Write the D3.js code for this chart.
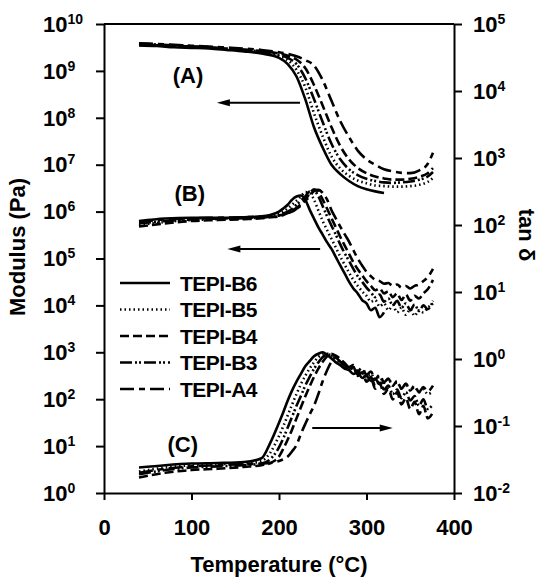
<!DOCTYPE html>
<html>
<head>
<meta charset="utf-8">
<script src="https://cdn.jsdelivr.net/npm/d3@7"></script>
<style>
  body { margin: 0; background: #fff; }
  text { font-family: 'Liberation Sans', Arial, sans-serif; font-weight: bold; fill: #000; }
</style>
</head>
<body>
<div id="chart"></div>
<script>
const seriesNames = ['TEPI-B6', 'TEPI-B5', 'TEPI-B4', 'TEPI-B3', 'TEPI-A4'];

// temperature grids (deg C)
const tempA = [40, 60, 80, 100, 120, 140, 160, 180, 200, 210, 220, 230, 240, 250, 260, 270, 280, 290, 300, 310, 320, 330, 340, 350, 360, 370, 376];
const tempBC = [40, 70, 100, 130, 160, 180, 190, 200, 205, 210, 215, 220, 225, 230, 235, 240, 245, 250, 255, 260, 265, 270, 275, 280, 285, 290, 295, 300, 305, 310, 315, 320, 325, 330, 335, 340, 345, 350, 355, 360, 365, 370, 376];

// (A) storage modulus, Pa
const storageB6 = [3.5e9, 3.4e9, 3.2e9, 3.1e9, 3.0e9, 2.8e9, 2.6e9, 2.35e9, 1.9e9, 1.4e9, 7.6e8, 2.5e8, 6.3e7, 2.3e7, 1.0e7, 6.3e6, 4.5e6, 3.5e6, 3.0e6, 2.7e6, 2.5e6];
const storageB5 = [3.7e9, 3.55e9, 3.4e9, 3.25e9, 3.1e9, 2.9e9, 2.7e9, 2.45e9, 2.05e9, 1.7e9, 1.05e9, 4.5e8, 1.25e8, 4.0e7, 1.5e7, 8.3e6, 5.8e6, 4.6e6, 4.0e6, 3.6e6, 3.5e6, 3.4e6, 3.4e6, 3.5e6, 3.7e6, 4.3e6, 5.2e6];
const storageB4 = [3.6e9, 3.5e9, 3.4e9, 3.3e9, 3.15e9, 3.0e9, 2.85e9, 2.65e9, 2.35e9, 2.1e9, 1.75e9, 1.15e9, 5.0e8, 1.8e8, 6.3e7, 2.5e7, 1.3e7, 8.5e6, 6.6e6, 5.6e6, 5.1e6, 4.8e6, 4.8e6, 5.0e6, 5.5e6, 6.6e6, 8.5e6];
const storageB3 = [3.8e9, 3.65e9, 3.5e9, 3.35e9, 3.2e9, 3.0e9, 2.8e9, 2.55e9, 2.2e9, 1.9e9, 1.4e9, 7.0e8, 2.5e8, 8.0e7, 2.8e7, 1.3e7, 8.0e6, 6.0e6, 5.0e6, 4.5e6, 4.2e6, 4.1e6, 4.2e6, 4.4e6, 4.8e6, 5.6e6, 7.0e6];
const storageA4 = [3.9e9, 3.75e9, 3.6e9, 3.45e9, 3.3e9, 3.15e9, 3.0e9, 2.8e9, 2.5e9, 2.3e9, 2.05e9, 1.7e9, 1.3e9, 6.3e8, 2.3e8, 8.5e7, 3.9e7, 2.0e7, 1.3e7, 1.0e7, 8.0e6, 7.2e6, 6.7e6, 6.6e6, 7.5e6, 1.05e7, 1.8e7];

// (B) loss modulus, Pa
const lossB6 = [6.3e5, 7.1e5, 7.4e5, 7.4e5, 7.6e5, 7.9e5, 8.5e5, 1.0e6, 1.17e6, 1.4e6, 1.8e6, 2.1e6, 2.2e6, 1.8e6, 1.1e6, 7.1e5, 4.6e5, 3.2e5, 2.2e5, 1.6e5, 1.07e5, 7.1e4, 4.8e4, 3.2e4, 2.3e4, 1.8e4, 1.3e4, 1.1e4, 7.9e3, 8.9e3, 5.6e3, 7.1e3];
const lossB5 = [5.2e5, 6.0e5, 6.6e5, 6.9e5, 7.2e5, 7.6e5, 7.9e5, 8.9e5, 1.0e6, 1.17e6, 1.4e6, 1.7e6, 2.1e6, 2.6e6, 2.5e6, 1.8e6, 1.05e6, 6.3e5, 4.0e5, 2.6e5, 1.7e5, 1.1e5, 7.4e4, 5.0e4, 3.5e4, 2.6e4, 2.0e4, 1.6e4, 1.2e4, 1.3e4, 9.5e3, 1.1e4, 7.9e3, 1.0e4, 7.1e3, 8.9e3, 6.3e3, 8.3e3, 6.0e3, 7.9e3, 7.1e3, 8.9e3, 1.1e4];
const lossB4 = [4.8e5, 5.6e5, 6.3e5, 6.6e5, 6.9e5, 7.2e5, 7.6e5, 7.9e5, 8.5e5, 9.3e5, 1.05e6, 1.2e6, 1.45e6, 1.8e6, 2.4e6, 3.0e6, 2.6e6, 1.8e6, 1.15e6, 7.2e5, 4.6e5, 2.9e5, 1.9e5, 1.26e5, 8.3e4, 5.9e4, 4.4e4, 3.3e4, 2.6e4, 2.1e4, 2.3e4, 1.8e4, 2.0e4, 1.5e4, 1.8e4, 1.3e4, 1.7e4, 1.26e4, 1.6e4, 1.4e4, 1.8e4, 2.2e4, 3.5e4];
const lossB3 = [5.6e5, 6.3e5, 6.8e5, 7.1e5, 7.2e5, 7.4e5, 7.8e5, 8.3e5, 9.1e5, 1.0e6, 1.15e6, 1.4e6, 1.7e6, 2.1e6, 2.7e6, 2.8e6, 2.1e6, 1.3e6, 7.9e5, 5.0e5, 3.2e5, 2.0e5, 1.3e5, 8.9e4, 6.0e4, 4.2e4, 3.2e4, 2.4e4, 1.9e4, 1.5e4, 1.7e4, 1.2e4, 1.4e4, 1.0e4, 1.26e4, 8.9e3, 1.1e4, 7.9e3, 1.05e4, 7.6e3, 1.0e4, 8.3e3, 1.26e4];
const lossA4 = [6.0e5, 6.8e5, 7.2e5, 7.4e5, 7.6e5, 7.8e5, 7.9e5, 8.3e5, 8.7e5, 9.3e5, 1.0e6, 1.15e6, 1.35e6, 1.7e6, 2.1e6, 2.75e6, 2.9e6, 2.5e6, 1.8e6, 1.07e6, 7.1e5, 4.8e5, 3.3e5, 2.3e5, 1.5e5, 1.0e5, 7.1e4, 5.2e4, 4.2e4, 3.5e4, 3.3e4, 2.9e4, 3.0e4, 2.6e4, 2.8e4, 2.4e4, 2.6e4, 2.3e4, 2.6e4, 2.8e4, 3.3e4, 4.0e4, 6.0e4];

// (C) tan delta
const tanB6 = [0.024, 0.026, 0.0275, 0.028, 0.029, 0.033, 0.056, 0.112, 0.162, 0.24, 0.34, 0.46, 0.60, 0.78, 0.93, 1.10, 1.20, 1.26, 1.15, 1.02, 0.89, 0.81, 0.72, 0.68, 0.60, 0.63, 0.52, 0.56, 0.47, 0.51, 0.42, 0.46];
const tanB5 = [0.021, 0.024, 0.026, 0.027, 0.0275, 0.030, 0.040, 0.071, 0.10, 0.145, 0.21, 0.30, 0.42, 0.56, 0.72, 0.89, 1.07, 1.17, 1.20, 1.12, 1.0, 0.87, 0.79, 0.71, 0.76, 0.63, 0.68, 0.55, 0.60, 0.49, 0.54, 0.44, 0.50, 0.40, 0.45, 0.36, 0.42, 0.34, 0.38, 0.32, 0.35, 0.30, 0.33];
const tanB4 = [0.017, 0.020, 0.022, 0.023, 0.0245, 0.026, 0.028, 0.035, 0.046, 0.063, 0.089, 0.13, 0.19, 0.275, 0.39, 0.54, 0.72, 0.91, 1.10, 1.20, 1.12, 1.0, 0.83, 0.69, 0.76, 0.56, 0.63, 0.46, 0.52, 0.36, 0.44, 0.30, 0.36, 0.25, 0.32, 0.21, 0.26, 0.18, 0.23, 0.15, 0.20, 0.13, 0.16];
const tanB3 = [0.019, 0.022, 0.024, 0.025, 0.026, 0.0275, 0.032, 0.048, 0.066, 0.095, 0.138, 0.20, 0.28, 0.40, 0.54, 0.71, 0.89, 1.07, 1.17, 1.15, 1.05, 0.91, 0.79, 0.69, 0.74, 0.58, 0.63, 0.48, 0.54, 0.40, 0.46, 0.35, 0.40, 0.30, 0.35, 0.26, 0.32, 0.24, 0.28, 0.20, 0.25, 0.18, 0.21];
const tanA4 = [0.020, 0.023, 0.025, 0.026, 0.027, 0.0275, 0.028, 0.030, 0.032, 0.035, 0.042, 0.052, 0.076, 0.107, 0.148, 0.20, 0.30, 0.47, 0.68, 0.91, 1.07, 1.0, 0.87, 0.76, 0.81, 0.66, 0.74, 0.58, 0.65, 0.50, 0.58, 0.45, 0.51, 0.40, 0.47, 0.36, 0.43, 0.34, 0.40, 0.32, 0.38, 0.33, 0.40];

const xTicks = [0, 100, 200, 300, 400];
const modulusTicks = d3.range(0, 11).map(e => 10 ** e);
const tanTicks = d3.range(-2, 6).map(e => 10 ** e);

const margin = { top: 24, right: 85, bottom: 88, left: 104 };
const width = 539 - margin.left - margin.right;
const height = 581 - margin.top - margin.bottom;

const dashes = {
  'TEPI-B6': null,
  'TEPI-B5': '1.5,3',
  'TEPI-B4': '9,4',
  'TEPI-B3': '12,3,2,2,2,3',
  'TEPI-A4': '14,5,6,5',
};

const x = d3.scaleLinear().domain([0, 400]).range([0, width]);
const yL = d3.scaleLog().domain([1, 1e10]).range([height, 0]);
const yR = d3.scaleLog().domain([1e-2, 1e5]).range([height, 0]);

const svg = d3.select('#chart').append('svg')
  .attr('width', 539)
  .attr('height', 581)
  .append('g')
  .attr('transform', `translate(${margin.left}, ${margin.top})`);

// power-of-ten label with a raised exponent
function powerLabel(sel, d) {
  const e = Math.round(Math.log10(d));
  sel.text(null);
  sel.append('tspan').text('10');
  sel.append('tspan').attr('dy', -8).attr('font-size', 14).text(String(e));
}

// left axis
const gL = svg.append('g')
  .call(d3.axisLeft(yL).tickValues(modulusTicks).tickSize(8).tickSizeOuter(0).tickFormat(''));
gL.selectAll('.tick text').each(function (d) {
  d3.select(this).attr('x', -61).attr('text-anchor', 'start').attr('dy', '0.33em')
    .attr('font-size', 22).call(powerLabel, d);
});

// right axis
const gR = svg.append('g')
  .attr('transform', `translate(${width}, 0)`)
  .call(d3.axisRight(yR).tickValues(tanTicks).tickSize(8).tickSizeOuter(0).tickFormat(''));
gR.selectAll('.tick text').each(function (d) {
  d3.select(this).attr('x', 19).attr('text-anchor', 'start').attr('dy', '0.33em')
    .attr('font-size', 22).call(powerLabel, d);
});

// bottom axis
const gB = svg.append('g')
  .attr('transform', `translate(0, ${height})`)
  .call(d3.axisBottom(x).tickValues(xTicks).tickSize(7).tickSizeOuter(0));
gB.selectAll('.tick text').attr('y', 42).attr('dy', 0).attr('font-size', 22);

// top frame
svg.append('line')
  .attr('x1', 0).attr('x2', width)
  .attr('y1', 0).attr('y2', 0)
  .attr('stroke', '#000').attr('stroke-width', 2);

svg.selectAll('.domain, .tick line').attr('stroke', '#000').attr('stroke-width', 2);

// axis titles
svg.append('text')
  .attr('transform', `translate(${25 - margin.left}, ${247 - margin.top}) rotate(-90)`)
  .attr('text-anchor', 'middle')
  .attr('font-size', 22)
  .text('Modulus (Pa)');

svg.append('text')
  .attr('transform', `translate(${519 - margin.left}, ${235 - margin.top}) rotate(90)`)
  .attr('text-anchor', 'middle')
  .attr('font-size', 22)
  .text('tan δ');

svg.append('text')
  .attr('x', width / 2)
  .attr('y', height + 79)
  .attr('text-anchor', 'middle')
  .attr('font-size', 22)
  .text('Temperature (°C)');

// curves
const groups = [
  { temps: tempA, y: yL, values: [storageB6, storageB5, storageB4, storageB3, storageA4] },
  { temps: tempBC, y: yL, values: [lossB6, lossB5, lossB4, lossB3, lossA4] },
  { temps: tempBC, y: yR, values: [tanB6, tanB5, tanB4, tanB3, tanA4] },
];

groups.forEach((g) => {
  const line = d3.line()
    .x(d => x(d[0]))
    .y(d => g.y(d[1]))
    .curve(d3.curveMonotoneX);
  g.values.forEach((vals, i) => {
    svg.append('path')
      .datum(vals.map((v, k) => [g.temps[k], v]))
      .attr('fill', 'none')
      .attr('stroke', '#000')
      .attr('stroke-width', 2.6)
      .attr('stroke-dasharray', dashes[seriesNames[i]])
      .attr('d', line);
  });
});

// panel labels
const panelLabels = [
  { text: '(A)', t: 96, y: yL, v: 8.1e8 },
  { text: '(B)', t: 98, y: yL, v: 2.5e6 },
  { text: '(C)', t: 90, y: yR, v: 0.054 },
];
svg.selectAll('.panelLabel')
  .data(panelLabels)
  .enter().append('text')
  .attr('class', 'panelLabel')
  .attr('x', d => x(d.t))
  .attr('y', d => d.y(d.v))
  .attr('dy', '0.36em')
  .attr('text-anchor', 'middle')
  .attr('font-size', 22)
  .text(d => d.text);

// arrows pointing to the axis each curve set belongs to
const arrows = [
  { from: 224, to: 129, y: yL, v: 2.1e8 },
  { from: 247, to: 141, y: yL, v: 1.6e5 },
  { from: 238, to: 330, y: yR, v: 0.093 },
];
arrows.forEach((a) => {
  const yy = a.y(a.v);
  const x0 = x(a.from);
  const x1 = x(a.to);
  const dir = Math.sign(x1 - x0);
  svg.append('line')
    .attr('x1', x0).attr('x2', x1 - dir * 10)
    .attr('y1', yy).attr('y2', yy)
    .attr('stroke', '#000').attr('stroke-width', 2);
  svg.append('path')
    .attr('d', `M${x1},${yy}L${x1 - dir * 13},${yy - 3.5}L${x1 - dir * 13},${yy + 3.5}Z`)
    .attr('fill', '#000');
});

// legend
const legend = svg.selectAll('.legend')
  .data(seriesNames)
  .enter().append('g')
  .attr('class', 'legend')
  .attr('transform', (d, i) => `translate(${120 - margin.left}, ${283 + i * 26.5 - margin.top})`);

legend.append('line')
  .attr('x1', 0).attr('x2', 50)
  .attr('stroke', '#000')
  .attr('stroke-width', 2.5)
  .attr('stroke-dasharray', d => dashes[d]);

legend.append('text')
  .attr('x', 60)
  .attr('dy', '0.36em')
  .attr('font-size', 21)
  .attr('letter-spacing', -0.5)
  .text(d => d);
</script>
</body>
</html>
